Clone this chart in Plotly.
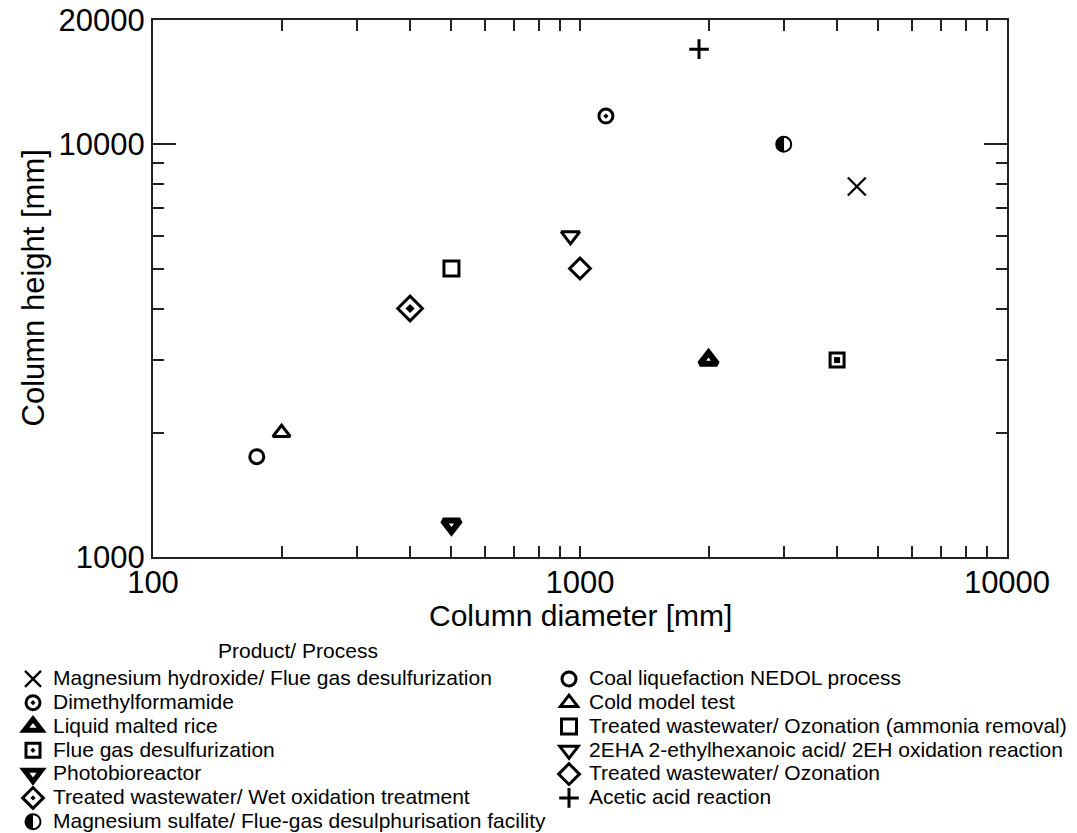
import plotly.graph_objects as go

# ---- data ----
process_names = [
    "Magnesium hydroxide/ Flue gas desulfurization",
    "Dimethylformamide",
    "Liquid malted rice",
    "Flue gas desulfurization",
    "Photobioreactor",
    "Treated wastewater/ Wet oxidation treatment",
    "Magnesium sulfate/ Flue-gas desulphurisation facility",
    "Coal liquefaction NEDOL process",
    "Cold model test",
    "Treated wastewater/ Ozonation (ammonia removal)",
    "2EHA 2-ethylhexanoic acid/ 2EH oxidation reaction",
    "Treated wastewater/ Ozonation",
    "Acetic acid reaction",
]
column_diameter_mm = [4450, 1150, 2000, 4000, 500, 400, 3000, 175, 200, 500, 950, 1000, 1900]
column_height_mm = [7900, 11700, 3000, 3000, 1200, 4000, 10000, 1750, 2000, 5000, 6000, 5000, 17000]

x_tick_vals = [100, 1000, 10000]
x_tick_text = ["100", "1000", "10000"]
x_minor_vals = [200, 300, 400, 500, 600, 700, 800, 900, 2000, 3000, 4000, 5000, 6000, 7000, 8000, 9000]
y_tick_vals = [1000, 10000, 20000]
y_tick_text = ["1000", "10000", "20000"]
y_minor_vals = [2000, 3000, 4000, 5000, 6000, 7000, 8000, 9000]

# ---- marker styles ----
symbols = ["x-thin", "circle-open-dot", "triangle-up-open", "square-open", "triangle-down-open",
           "diamond-open", "circle", "circle-open", "triangle-up-open", "square-open",
           "triangle-down-open", "diamond-open", "cross-thin"]
sizes = [18, 14, 15, 14, 15, 19, 15, 14, 15, 15, 16, 16, 14]
line_widths = [2.3, 3, 6, 3, 6, 3, 2, 3, 3, 3, 3, 3, 3]
legend_ids = ["legend"] * 7 + ["legend2"] * 6
# inner filled shapes for the "double" symbols (index -> (symbol, size))
inner_marks = {3: ("square", 6), 5: ("diamond", 7)}

FONT = "Liberation Sans, Arial, sans-serif"

fig = go.Figure()
for i, name in enumerate(process_names):
    sym = symbols[i]
    if i in inner_marks:
        sym = sym + "-dot"
    marker = dict(symbol=sym, size=sizes[i], color="black",
                  line=dict(color="black", width=line_widths[i]))
    if i == 6:
        marker["gradient"] = dict(type="horizontal", color="white")
    fig.add_trace(go.Scatter(
        x=[column_diameter_mm[i]], y=[column_height_mm[i]],
        mode="markers", marker=marker,
        name='<span style="font-size:21px">' + name + "</span>",
        legend=legend_ids[i], showlegend=True,
    ))
    if i in inner_marks:
        isym, isize = inner_marks[i]
        fig.add_trace(go.Scatter(
            x=[column_diameter_mm[i]], y=[column_height_mm[i]],
            mode="markers",
            marker=dict(symbol=isym, size=isize, color="black", line=dict(width=0)),
            showlegend=False, hoverinfo="skip",
        ))

minor_common = dict(tickmode="array", ticks="inside", ticklen=11,
                    tickcolor="#222", tickwidth=1.5, showgrid=False)

axis_common = dict(
    type="log", showgrid=False, zeroline=False, showline=True,
    linecolor="#222", linewidth=2, mirror="ticks", ticks="inside",
    tickcolor="#222", tickwidth=1.5, automargin=False,
    tickfont=dict(family=FONT, size=31, color="black"),
)

PW, PH, ML, MT = 854, 537, 153, 20

fig.update_layout(
    width=1077, height=833,
    margin=dict(l=ML, r=70, t=MT, b=276, autoexpand=False),
    paper_bgcolor="white", plot_bgcolor="white",
    font=dict(family=FONT, color="black"),
    xaxis=dict(
        **axis_common,
        range=[2, 4],
        tickmode="array", tickvals=x_tick_vals, ticktext=x_tick_text, ticklen=11,
        ticklabelstandoff=-3,
        minor=dict(**minor_common, tickvals=x_minor_vals),
    ),
    yaxis=dict(
        **axis_common,
        range=[3, 4.30103],
        tickmode="array", tickvals=y_tick_vals, ticktext=y_tick_text, ticklen=23,
        minor=dict(**minor_common, tickvals=y_minor_vals),
    ),
    legend=dict(
        x=(13 - ML) / PW, y=(MT + PH - 662) / PH,
        xanchor="left", yanchor="top", orientation="v", tracegroupgap=0,
        font=dict(family=FONT, size=16, color="black"),
        bgcolor="rgba(0,0,0,0)", borderwidth=0, itemsizing="trace",
    ),
    legend2=dict(
        x=(549 - ML) / PW, y=(MT + PH - 662) / PH,
        xanchor="left", yanchor="top", orientation="v", tracegroupgap=0,
        font=dict(family=FONT, size=16, color="black"),
        bgcolor="rgba(0,0,0,0)", borderwidth=0, itemsizing="trace",
    ),
    annotations=[
        dict(text="Product/ Process", xref="paper", yref="paper",
             x=(298 - ML) / PW, y=(MT + PH - 650) / PH, showarrow=False,
             xanchor="center", yanchor="middle",
             font=dict(family=FONT, size=21, color="black")),
        dict(text="Column diameter [mm]", xref="paper", yref="paper",
             x=0.5, y=(MT + PH - 615) / PH, showarrow=False,
             xanchor="center", yanchor="middle",
             font=dict(family=FONT, size=30, color="black")),
        dict(text="Column height [mm]", xref="paper", yref="paper",
             x=(33 - ML) / PW, y=0.5, showarrow=False, textangle=-90,
             xanchor="center", yanchor="middle",
             font=dict(family=FONT, size=31, color="black")),
    ],
)

# make the half-filled circle (left half black, right half white)
post_js = """
var gd = document.getElementById('{plot_id}');
function halfFill(){
  gd.querySelectorAll('linearGradient').forEach(function(g){
    g.setAttribute('x1','0'); g.setAttribute('x2','1');
    g.setAttribute('y1','0'); g.setAttribute('y2','0');
    while(g.firstChild){ g.removeChild(g.firstChild); }
    [['0','#000'],['0.5','#000'],['0.5','#fff'],['1','#fff']].forEach(function(s){
      var st = document.createElementNS('http://www.w3.org/2000/svg','stop');
      st.setAttribute('offset', s[0]); st.setAttribute('stop-color', s[1]);
      g.appendChild(st);
    });
  });
}
halfFill();
"""

fig.write_html("out.html", post_script=post_js)
